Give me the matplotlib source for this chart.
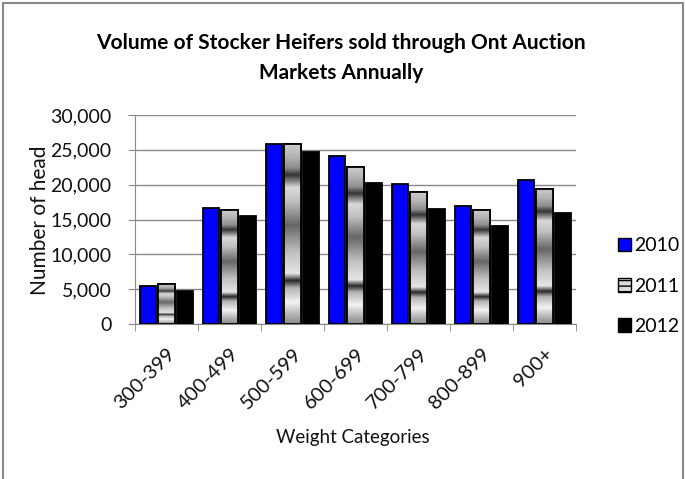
import numpy as np
import matplotlib.pyplot as plt
from matplotlib.patches import Patch, Rectangle

categories = ["300-399", "400-499", "500-599", "600-699", "700-799", "800-899", "900+"]
years = ["2010", "2011", "2012"]
vol_2010 = [5500, 16600, 25800, 24150, 20100, 16900, 20700]
vol_2011 = [5700, 16300, 25800, 22600, 18900, 16300, 19400]
vol_2012 = [4700, 15450, 24700, 20200, 16500, 14100, 15900]

plt.rcParams["font.family"] = ["Lato", "DejaVu Sans"]

fig = plt.figure(figsize=(6.86, 4.79), dpi=100)
ax = fig.add_axes([135 / 686, 1 - 324 / 479, 441 / 686, 209 / 479])

x = np.arange(len(categories))
w = 0.26
off = 0.295

ax.bar(x - off, vol_2010, w, color="#0000ff", edgecolor="black", linewidth=1.3, zorder=3)
bars11 = ax.bar(x, vol_2011, w, color="#cccccc", edgecolor="black", linewidth=1.3, zorder=3)
ax.bar(x + off, vol_2012, w, color="black", edgecolor="black", linewidth=1.3, zorder=3)

# metallic band fill of the 2011 bars
pos = [0.0, 0.05, 0.12, 0.2, 0.24, 0.28, 0.4, 0.55, 0.68, 0.76, 0.83, 0.87, 0.93, 1.0]
lev = [0.55, 0.7, 0.95, 0.7, 0.15, 0.9, 0.75, 0.4, 0.75, 0.85, 0.2, 0.55, 0.7, 0.8]
t = np.linspace(0, 1, 200)
grad = np.interp(t, pos, lev)[:, None] * np.ones((1, 20))
for b in bars11:
    x0, y0 = b.get_x(), b.get_y()
    im = ax.imshow(grad, cmap="gray", vmin=0, vmax=1, origin="lower", aspect="auto",
                   extent=[x0, x0 + b.get_width(), y0, y0 + b.get_height()],
                   zorder=3.5, interpolation="bilinear")
    im.set_clip_path(b)
    ax.add_patch(Rectangle((x0, y0), b.get_width(), b.get_height(), fill=False,
                           edgecolor="black", linewidth=1.3, zorder=4))

ax.set_xlim(-0.5, len(categories) - 0.5)
ax.set_ylim(0, 30000)
ax.set_yticks(range(0, 30001, 5000))
ax.set_yticklabels([f"{v:,}" for v in range(0, 30001, 5000)], fontsize=14, color="#111111")
ax.set_xticks(x)
ax.set_xticklabels(categories, rotation=45, ha="right", rotation_mode="anchor", fontsize=14.5,
                   color="#111111")
ax.set_xticks(np.arange(-0.5, len(categories)), minor=True)
ax.tick_params(axis="x", which="major", length=0, pad=15)
ax.tick_params(axis="x", which="minor", length=5, color="#888888")
ax.tick_params(axis="y", length=5, color="#888888", pad=12)
ax.grid(axis="y", color="#888888", linewidth=1, zorder=0)
for s in ["top", "right"]:
    ax.spines[s].set_visible(False)
ax.spines["left"].set_color("#888888")
ax.spines["bottom"].set_color("#888888")

fig.text(40 / 686, 1 - 220 / 479, "Number of head", rotation=90, ha="center", va="center",
         fontsize=15, color="#111111")
fig.text(353 / 686, 1 - 438 / 479, "Weight Categories", ha="center", va="center",
         fontsize=13.5, color="#111111")
fig.text(341 / 686, 1 - 58 / 479, "Volume of Stocker Heifers sold through Ont Auction\nMarkets Annually",
         ha="center", va="center", fontsize=15, fontweight="bold", linespacing=1.65)

handles = [Patch(facecolor="#0000ff", edgecolor="black"),
           Patch(facecolor="#dddddd", edgecolor="black", hatch="---"),
           Patch(facecolor="black", edgecolor="black")]
fig.legend(handles, years, loc="center left", bbox_to_anchor=(600 / 686, 1 - 286 / 479),
           frameon=False, fontsize=14, handlelength=0.7, handleheight=0.7,
           handletextpad=0.15, labelspacing=1.2)

fig.patches.append(Rectangle((0.004, -0.01), 0.992, 1.004, transform=fig.transFigure,
                             fill=False, edgecolor="#888888", linewidth=1.5))

fig.savefig("out.png", dpi=100)
